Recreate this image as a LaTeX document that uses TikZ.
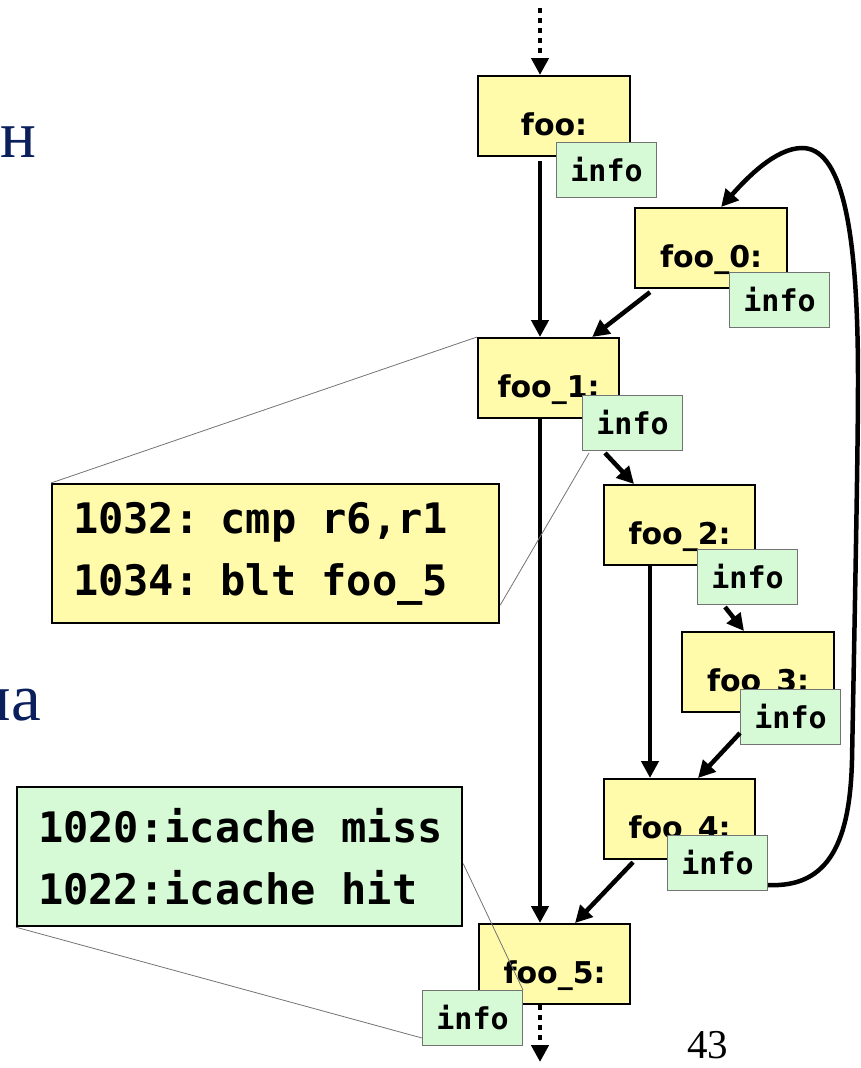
\documentclass[tikz,border=0pt]{standalone}
\usepackage{fontspec}
\usepackage{tikz}
\usetikzlibrary{arrows.meta}
\usetikzlibrary{positioning}
\usetikzlibrary{calc}
\newfontfamily\labelfont{DejaVu Sans}
\newfontfamily\codefont{DejaVu Sans Mono}
\newfontfamily\slidefont{Liberation Serif}
\newcommand{\codeline}[1]{\mbox{\spaceskip=25.3pt\relax #1}}
\definecolor{blockyellow}{HTML}{FFFBAA}
\definecolor{infogreen}{HTML}{D5FAD5}
\definecolor{slidenavy}{HTML}{0A1F5C}

\begin{document}
\begin{tikzpicture}[x=1pt, y=-1pt,
    block/.style={draw=black, line width=2.2pt, fill=blockyellow, anchor=north west, inner sep=0pt,
        minimum height=80pt, text height=38pt, text depth=0pt, font=\labelfont\bfseries\fontsize{30}{34}\selectfont},
    infobox/.style={draw=black!55, line width=1pt, fill=infogreen, anchor=north west, inner sep=0pt,
        minimum width=100pt, minimum height=55pt, font=\codefont\bfseries\fontsize{30}{34}\selectfont},
    codebox/.style={draw=black, line width=2.2pt, anchor=north west, inner xsep=21pt, inner ysep=0pt,
        minimum height=139pt, align=left, font=\codefont\bfseries\fontsize{42}{62}\selectfont},
    flow/.style={line width=4.5pt, -{Triangle[length=17pt, width=17pt]}},
    dotflow/.style={flow, dash pattern=on 5pt off 5pt},
    zoomline/.style={draw=black!55, line width=0.8pt}]
                \clip (0,0) rectangle (860,1068);

                \node[anchor=base west, text=slidenavy, font=\slidefont\fontsize{67}{70}\selectfont, inner sep=0pt] (slideA) at (0,157) {н};
                \node[anchor=base east, text=slidenavy, font=\slidefont\fontsize{67}{70}\selectfont, inner sep=0pt] (slideB) at (41,720) {ла};
                \node[anchor=base west, font=\slidefont\fontsize{41}{44}\selectfont, inner sep=0pt] (pagenum) at (687,1058) {43};

                \coordinate (entry) at (540,8);
                \coordinate (exit) at (540,1062);

                \node[block, minimum width=152pt] (foo) at (477,75) {foo:};
                \node[infobox] (fooinfo) at (556,142) {info};
                \node[block, minimum width=152pt] (foo0) at (634,207) {foo\_0:};
                \node[infobox] (foo0info) at (729,272) {info};
                \node[block, minimum width=141pt] (foo1) at (477,337) {foo\_1:};
                \node[infobox] (foo1info) at (582,395) {info};
                \node[block, minimum width=151pt] (foo2) at (603,484) {foo\_2:};
                \node[infobox] (foo2info) at (697,549) {info};
                \node[block, minimum width=152pt] (foo3) at (681,631) {foo\_3:};
                \node[infobox] (foo3info) at (740,689) {info};
                \node[block, minimum width=151pt] (foo4) at (603,778) {foo\_4:};
                \node[infobox] (foo4info) at (667,835) {info};
                \node[block, minimum width=151pt] (foo5) at (478,923) {foo\_5:};
                \node[infobox] (foo5info) at (422,990) {info};

                \node[codebox, fill=blockyellow, text width=405pt] (code) at (51,483) {\codeline{1032: cmp r6,r1}\\\codeline{1034: blt foo\_5}};
                \node[codebox, fill=infogreen, text width=403pt] (cache) at (16,786) {\codeline{1020:icache miss}\\\codeline{1022:icache hit}};

                \draw[dotflow] (entry) -- (foo.north -| entry);
                \draw[flow] ([yshift=-4pt]foo.south -| entry) -- (foo1.north -| entry);
                \draw[flow] ([xshift=16pt, yshift=-3pt]foo0.south west) -- ([xshift=-28pt]foo1.north east);
                \draw[flow] (foo1.south -| entry) -- (foo5.north -| entry);
                \draw[flow] ([xshift=23pt, yshift=-2pt]foo1info.south west) -- ([xshift=31pt]foo2.north west);
                \draw[flow] ([xshift=47pt]foo2.south west) -- ([xshift=47pt]foo4.north west);
                \draw[flow] ([xshift=28pt, yshift=-2pt]foo2info.south west) -- ([xshift=63pt]foo3.north west);
                \draw[flow] ([yshift=12pt]foo3info.south west) -- ([xshift=95pt]foo4.north west);
                \draw[flow] ([xshift=30pt, yshift=-2pt]foo4.south west) -- ([xshift=97pt]foo5.north west);
                \draw[dotflow] (foo5.south -| entry) -- (exit);
                \draw[flow] ($(foo4info.south east)+(0,-6)$) .. controls (830,888) and (850,840) .. (852,760)
                    .. controls (855,600) and (858,450) .. (858,380)
                    .. controls (858,220) and (840,148) .. (802,148)
                    .. controls (775,148) and (745,180) .. ([xshift=10pt]foo0.north);

                \draw[zoomline] (foo1.north west) -- (code.north west);
                \draw[zoomline] ([xshift=7pt, yshift=-2pt]foo1info.south west) -- ([yshift=19pt]code.south east);
                \draw[zoomline] ([yshift=-7pt]cache.east) -- (foo5info.north east);
                \draw[zoomline] (cache.south west) -- ([yshift=8pt]foo5info.south west);
            \end{tikzpicture}
\end{document}
